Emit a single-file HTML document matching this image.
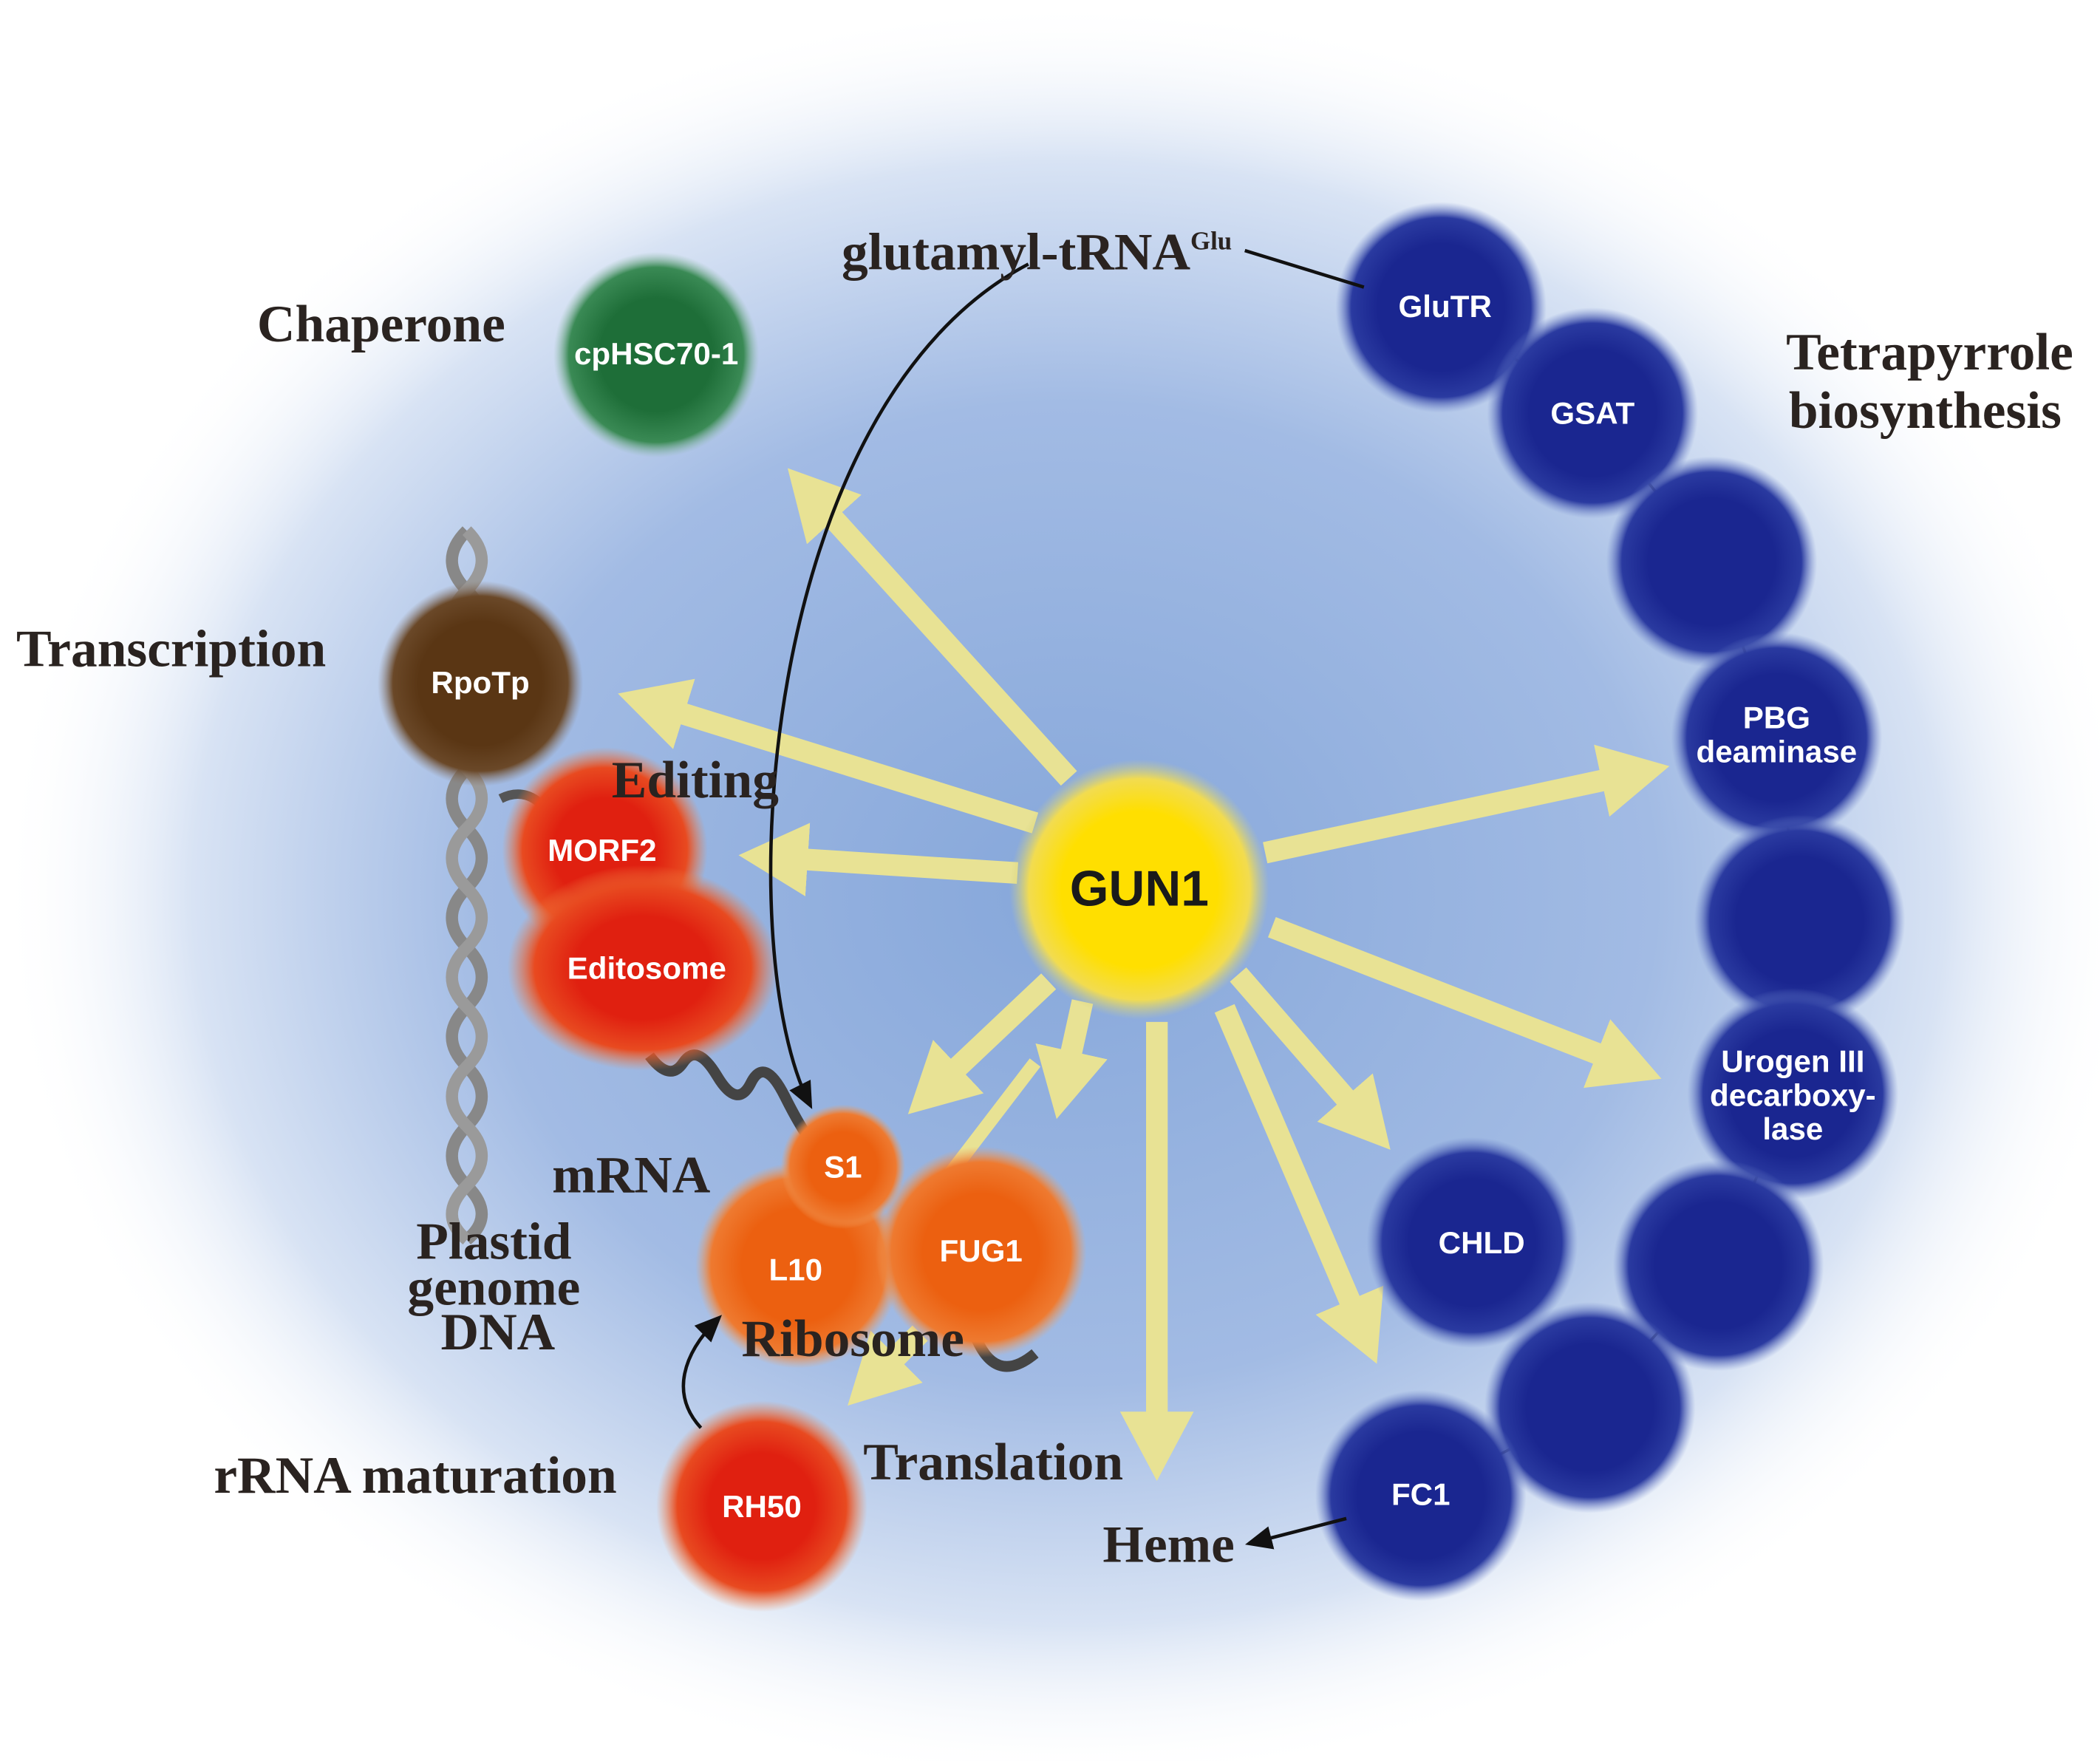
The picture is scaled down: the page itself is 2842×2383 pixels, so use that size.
<!DOCTYPE html>
<html><head><meta charset="utf-8"><style>
html,body{margin:0;padding:0;background:#fff}
svg{display:block}
.s{font-family:"Liberation Serif",serif;font-weight:bold;fill:#2a2320}
.n{font-family:"Liberation Sans",sans-serif;font-weight:bold;fill:#fff;text-anchor:middle}
</style></head><body>
<svg width="2842" height="2383" viewBox="0 0 1552 1301" xmlns="http://www.w3.org/2000/svg">
<defs>
<radialGradient id="bg" cx="0.5" cy="0.5" r="0.5">
<stop offset="0" stop-color="#86a7da"/><stop offset="0.55" stop-color="#a2bbe4"/><stop offset="0.82" stop-color="#d8e3f4"/><stop offset="1" stop-color="#fff" stop-opacity="0"/></radialGradient>
<radialGradient id="blue"><stop offset="0.6" stop-color="#1a2690"/><stop offset="0.85" stop-color="#2a3aa0"/><stop offset="1" stop-color="#6a80c8" stop-opacity="0"/></radialGradient>
<radialGradient id="yel"><stop offset="0.6" stop-color="#ffdf00"/><stop offset="0.85" stop-color="#f2dc50"/><stop offset="1" stop-color="#cfd08a" stop-opacity="0"/></radialGradient>
<radialGradient id="grn"><stop offset="0.55" stop-color="#1e6e38"/><stop offset="0.85" stop-color="#3a8a55"/><stop offset="1" stop-color="#8ab8a0" stop-opacity="0"/></radialGradient>
<radialGradient id="brn"><stop offset="0.6" stop-color="#5a3614"/><stop offset="0.85" stop-color="#6a4828"/><stop offset="1" stop-color="#8a7a70" stop-opacity="0"/></radialGradient>
<radialGradient id="red"><stop offset="0.5" stop-color="#e02010"/><stop offset="0.8" stop-color="#e84a20"/><stop offset="1" stop-color="#f08040" stop-opacity="0"/></radialGradient>
<radialGradient id="org"><stop offset="0.55" stop-color="#ec6010"/><stop offset="0.85" stop-color="#ee7a30"/><stop offset="1" stop-color="#f0a060" stop-opacity="0"/></radialGradient>
<marker id="ah" markerWidth="4" markerHeight="4" refX="2" refY="2" orient="auto" markerUnits="strokeWidth"><path d="M0,0.3 L3.2,2 L0,3.7 Z" fill="#e8e294"/></marker>
<marker id="bk" markerWidth="8" markerHeight="8" refX="6" refY="4" orient="auto" markerUnits="strokeWidth"><path d="M0,0.5 L8,4 L0,7.5 Z" fill="#111"/></marker>
</defs>
<ellipse cx="790" cy="660" rx="790" ry="660" fill="url(#bg)"/>
<g fill="none" stroke="#888" stroke-width="9">
<path d="M345,392 q-22,22 0,44 t0,44 t0,44 t0,44 t0,44 t0,44 t0,44 t0,44 t0,44 t0,44 t0,44 t0,40"/>
<path d="M345,392 q22,22 0,44 t0,44 t0,44 t0,44 t0,44 t0,44 t0,44 t0,44 t0,44 t0,44 t0,44 t0,40" stroke="#9a9a9a"/>
</g>
<path d="M480,780 q15,20 25,5 t25,10 t25,5 t25,10 t25,40" fill="none" stroke="#444" stroke-width="8"/>
<path d="M720,985 q15,40 45,15" fill="none" stroke="#444" stroke-width="8"/>
<path d="M370,590 q20,-10 35,10 t25,30" fill="none" stroke="#555" stroke-width="7"/>
<path d="M1065,227 L1177,305 L1265,415 L1313,545 L1330,680 L1325,808 L1270,935 L1175,1040 L1050,1105" fill="none" stroke="#333" stroke-width="2"/>
<g stroke="#e8e294" stroke-width="16" marker-end="url(#ah)" fill="none">
<line x1="790" y1="575" x2="595" y2="360"/>
<line x1="765" y1="608" x2="475" y2="518"/>
<line x1="752" y1="645" x2="565" y2="633"/>
<line x1="775" y1="725" x2="685" y2="810"/>
<line x1="800" y1="740" x2="785" y2="808"/>
<line x1="855" y1="755" x2="855" y2="1075"/>
<line x1="915" y1="720" x2="1015" y2="835"/>
<line x1="905" y1="745" x2="1010" y2="990"/>
<line x1="935" y1="630" x2="1215" y2="570"/>
<line x1="940" y1="685" x2="1210" y2="790"/>
<line x1="680" y1="985" x2="640" y2="1025"/>
</g>
<line x1="700" y1="870" x2="765" y2="785" stroke="#e8e294" stroke-width="10"/>
<circle cx="485" cy="262" r="76" fill="url(#grn)"/>
<circle cx="355" cy="505" r="76" fill="url(#brn)"/>
<circle cx="447" cy="628" r="76" fill="url(#red)"/>
<ellipse cx="475" cy="715" rx="100" ry="76" fill="url(#red)"/>
<circle cx="590" cy="935" r="76" fill="url(#org)"/>
<circle cx="725" cy="925" r="78" fill="url(#org)"/>
<circle cx="623" cy="862" r="46" fill="url(#org)"/>
<circle cx="563" cy="1113" r="78" fill="url(#red)"/>
<circle cx="842" cy="657" r="96" fill="url(#yel)"/>
<g fill="url(#blue)">
<circle cx="1065" cy="227" r="78"/><circle cx="1177" cy="305" r="78"/><circle cx="1265" cy="415" r="78"/>
<circle cx="1313" cy="545" r="78"/><circle cx="1330" cy="680" r="78"/><circle cx="1325" cy="808" r="78"/>
<circle cx="1270" cy="935" r="78"/><circle cx="1175" cy="1040" r="78"/><circle cx="1050" cy="1105" r="78"/>
<circle cx="1088" cy="918" r="78"/></g>
<path d="M760,195 C560,300 540,700 598,815" fill="none" stroke="#111" stroke-width="2.5" marker-end="url(#bk)"/>
<line x1="920" y1="185" x2="1008" y2="212" stroke="#111" stroke-width="2.5"/>
<line x1="995" y1="1122" x2="925" y2="1140" stroke="#111" stroke-width="2.5" marker-end="url(#bk)"/>
<path d="M518,1055 C495,1030 505,1000 530,975" fill="none" stroke="#111" stroke-width="2.5" marker-end="url(#bk)"/>
<g class="n" font-size="23">
<text x="485" y="269">cpHSC70-1</text>
<text x="355" y="512">RpoTp</text>
<text x="445" y="636">MORF2</text>
<text x="478" y="723">Editosome</text>
<text x="623" y="870">S1</text>
<text x="588" y="946">L10</text>
<text x="725" y="932">FUG1</text>
<text x="563" y="1121">RH50</text>
<text x="1068" y="234">GluTR</text>
<text x="1177" y="313">GSAT</text>
<text x="1313" y="538">PBG</text><text x="1313" y="563">deaminase</text>
<text x="1325" y="792">Urogen III</text><text x="1325" y="817">decarboxy-</text><text x="1325" y="842">lase</text>
<text x="1095" y="926">CHLD</text>
<text x="1050" y="1112">FC1</text>
</g>
<text x="842" y="669" font-family="Liberation Sans,sans-serif" font-weight="bold" font-size="37" fill="#1a1a1a" text-anchor="middle">GUN1</text>
<g class="s" font-size="39">
<text x="190" y="252">Chaperone</text>
<text x="12" y="492">Transcription</text>
<text x="452" y="589">Editing</text>
<text x="622" y="199">glutamyl-tRNA<tspan font-size="19" dy="-15">Glu</tspan></text>
<text x="1320" y="273">Tetrapyrrole</text>
<text x="1322" y="316">biosynthesis</text>
<text x="408" y="881">mRNA</text>
<text x="365" y="930" text-anchor="middle">Plastid</text>
<text x="365" y="964" text-anchor="middle">genome</text>
<text x="368" y="997" text-anchor="middle">DNA</text>
<text x="548" y="1002">Ribosome</text>
<text x="158" y="1103">rRNA maturation</text>
<text x="638" y="1093">Translation</text>
<text x="815" y="1154">Heme</text>
</g>
</svg>
</body></html>
